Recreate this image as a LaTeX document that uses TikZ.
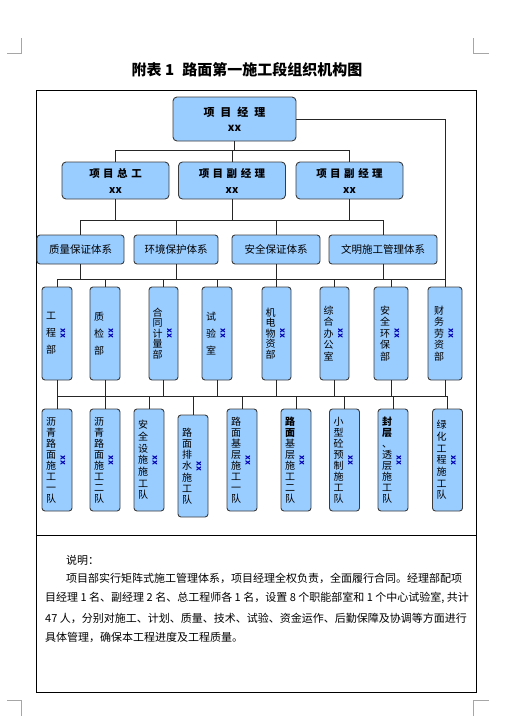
\documentclass[tikz,border=0pt]{standalone}
\usepackage{fontspec}
\setmainfont{Noto Sans CJK SC}
\usepackage{xcolor}
\usetikzlibrary{positioning,calc}
\definecolor{boxfill}{RGB}{153,204,255}
\definecolor{boxline}{RGB}{60,60,60}
\newcommand{\chgap}[1]{\hspace{#1pt}}
\tikzset{mgr/.style={draw=boxline,fill=boxfill,line width=0.9pt,rounded corners=4pt,align=center,inner sep=0pt,
    font=\bfseries\fontsize{10.5}{16}\selectfont},
  leader/.style={mgr,minimum width=107pt,minimum height=37pt},
  sysbox/.style={draw=boxline,fill=boxfill,line width=0.9pt,rounded corners=3pt,minimum height=29pt,inner sep=0pt,
    font=\fontsize{10.5}{12}\selectfont},
  vbox/.style={sysbox,minimum width=30pt},
  vtxt/.style={align=center,inner sep=0pt},
  xxmark/.style={rotate=-90,inner sep=0pt,text=blue!70!black,font=\bfseries\fontsize{8}{8}\selectfont},
  link/.style={line width=0.6pt,draw=black!85},
  crop/.style={draw=gray!70,line width=0.5pt},
  note/.style={anchor=west,inner sep=0pt,font=\fontsize{11}{13}\selectfont}}
\begin{document}
\begin{tikzpicture}[x=1pt,y=-1pt]
\useasboundingbox (0,0) rectangle (509,716);
% page corners and frame
\draw[crop] (7,53) -- (21,53) -- (21,38);
\draw[crop] (489,53) -- (473,53) -- (473,38);
\draw[crop] (7,700) -- (21,700) -- (21,716);
\draw[crop] (489,700) -- (473,700) -- (473,716);
\node[font=\bfseries\fontsize{15}{16}\selectfont] (title) at (247,70) {附表 1\chgap{8}路面第一施工段组织机构图};
\draw[line width=0.7pt] (36,90) rectangle (476,692);
\draw[line width=0.7pt] (36,535) -- (476,535);

\node[mgr,font=\bfseries\fontsize{11}{15}\selectfont,minimum width=123pt,minimum height=44pt] (pm) at (234.5,119)
  {项\chgap{6}目\chgap{6}经\chgap{6}理\\xx};
\node[leader] (chief) at (115.5,180.5) {项\chgap{3.5}目\chgap{3.5}总\chgap{3.5}工\\xx};
\node[leader] (vpa) at (232,180.5) {项\chgap{3.5}目\chgap{3.5}副\chgap{3.5}经\chgap{3.5}理\\xx};
\node[leader] (vpb) at (349.5,180.5) {项\chgap{3.5}目\chgap{3.5}副\chgap{3.5}经\chgap{3.5}理\\xx};

\foreach \n/\x/\w/\txt in {sys1/80.5/87/质量保证体系,sys2/176/84/环境保护体系,sys3/276/88/安全保证体系,sys4/383/108/文明施工管理体系}
  \node[sysbox,minimum width=\w pt] (\n) at (\x,249.5) {\txt};

\foreach \i/\x/\w/\ls/\txt in {1/57/30/17/{工\\程\\部},2/105/30/17/{质\\检\\部},3/163.5/29/10.5/{合\\同\\计\\量\\部},
    4/217/30/17/{试\\验\\室},5/276.5/29/10.5/{机\\电\\物\\资\\部},6/334.5/29/11.5/{综\\合\\办\\公\\室},
    7/391/34/11.5/{安\\全\\环\\保\\部},8/445/34/11.5/{财\\务\\劳\\资\\部}}{
  \node[vbox,minimum width=\w pt,minimum height=93pt] (dept\i) at (\x,333.5) {};
  \node[vtxt,font=\fontsize{10}{\ls}\selectfont] (dept\i-t) at ([xshift=-6pt]dept\i.center) {\txt};
  \node[xxmark] (dept\i-x) at ([xshift=6pt]dept\i.center) {xx};
}

\foreach \i/\x/\y/\ls/\txt in {1/57/460/11/{沥\\青\\路\\面\\施\\工\\一\\队},2/105/460/11/{沥\\青\\路\\面\\施\\工\\二\\队},
    3/149/460/11.7/{安\\全\\设\\施\\施\\工\\队},4/193/466/11.2/{路\\面\\排\\水\\施\\工\\队},
    5/242/460/11/{路\\面\\基\\层\\施\\工\\一\\队},6/296/460/11/{\textbf{路}\\\textbf{面}\\基\\层\\施\\工\\二\\队},
    7/344.5/460/11/{小\\型\\砼\\预\\制\\施\\工\\队},8/393/460/11/{\textbf{封}\\\textbf{层}\\、\\透\\层\\施\\工\\队},
    9/447.5/460/11.7/{绿\\化\\工\\程\\施\\工\\队}}{
  \node[vbox,minimum height=102pt] (team\i) at (\x,\y) {};
  \node[vtxt,font=\fontsize{10}{\ls}\selectfont] (team\i-t) at ([xshift=-6pt]team\i.center) {\txt};
  \node[xxmark] (team\i-x) at ([xshift=6pt]team\i.center) {xx};
}

% connectors
\coordinate (bus1) at (0,150);
\coordinate (bus2) at (0,220);
\coordinate (bus3) at (0,279);
\coordinate (bus4) at (0,396);
\draw[link] (pm.south) -- (pm.south |- bus1);
\draw[link] (chief.north) |- (vpb.north |- bus1) -- (vpb.north);
\draw[link] (vpa.north) -- (vpa.north |- bus1);
\foreach \n in {chief,vpa,vpb} \draw[link] (\n.south) -- (\n.south |- bus2);
\draw[link] (sys1.north) |- (sys4.north |- bus2) -- (sys4.north);
\foreach \n in {sys2,sys3} \draw[link] (\n.north) -- (\n.north |- bus2);
\foreach \n in {sys1,sys2,sys3,sys4} \draw[link] (\n.south) -- (\n.south |- bus3);
\draw[link] (pm.east) -| (dept8.north);
\draw[link] (dept1.north) |- (dept8.north |- bus3);
\foreach \i in {2,...,7} \draw[link] (dept\i.north) -- (dept\i.north |- bus3);
\foreach \i in {1,...,8} \draw[link] (dept\i.south) -- (dept\i.south |- bus4);
\draw[link] (team1.north) |- (team9.north |- bus4) -- (team9.north);
\foreach \i in {2,...,8} \draw[link] (team\i.north) -- (team\i.north |- bus4);

\node[note] (head) at (66,560) {说明：};
\node[note] (line1) at (66,578) {项目部实行矩阵式施工管理体系，项目经理全权负责，全面履行合同。经理部配项};
\node[note] (line2) at (45,598) {目经理 1 名、副经理 2 名、总工程师各 1 名，设置 8 个职能部室和 1 个中心试验室, 共计};
\node[note] (line3) at (45,618) {47 人，分别对施工、计划、质量、技术、试验、资金运作、后勤保障及协调等方面进行};
\node[note] (line4) at (45,637) {具体管理，确保本工程进度及工程质量。};
\end{tikzpicture}
\end{document}
